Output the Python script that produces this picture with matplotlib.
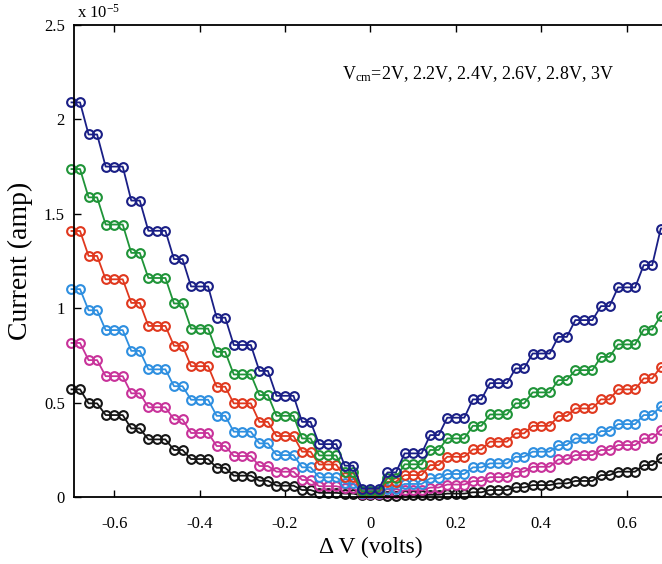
import numpy as np
import matplotlib
matplotlib.use("Agg")
import matplotlib.pyplot as plt

plt.rcParams['font.family'] = ['Liberation Serif', 'DejaVu Serif']
plt.rcParams['mathtext.fontset'] = 'custom'
plt.rcParams['mathtext.rm'] = 'Liberation Serif'
plt.rcParams['mathtext.it'] = 'Liberation Serif:italic'

# differential input sweep (volts)
dv = [-0.70, -0.68, -0.66, -0.64, -0.62, -0.60, -0.58, -0.56, -0.54, -0.52,
      -0.50, -0.48, -0.46, -0.44, -0.42, -0.40, -0.38, -0.36, -0.34, -0.32,
      -0.30, -0.28, -0.26, -0.24, -0.22, -0.20, -0.18, -0.16, -0.14, -0.12,
      -0.10, -0.08, -0.06, -0.04, -0.02, 0.00, 0.02, 0.04, 0.06, 0.08,
      0.10, 0.12, 0.14, 0.16, 0.18, 0.20, 0.22, 0.24, 0.26, 0.28,
      0.30, 0.32, 0.34, 0.36, 0.38, 0.40, 0.42, 0.44, 0.46, 0.48,
      0.50, 0.52, 0.54, 0.56, 0.58, 0.60, 0.62, 0.64, 0.66, 0.68, 0.70]

# number of sweep points sitting on each quantised current step
step_counts = [2, 2, 3, 2, 3, 2, 3, 2, 3, 2, 3, 2, 3, 2,
               3,
               2, 3, 2, 3, 2, 3, 2, 3, 2, 3, 2, 3, 2, 2]

# current on each step, x 1e-5 A
i_3v0 = [2.09, 1.92, 1.75, 1.57, 1.41, 1.26, 1.115, 0.95, 0.805, 0.668, 0.536, 0.398, 0.28, 0.166,
         0.045,
         0.13, 0.231, 0.328, 0.42, 0.517, 0.603, 0.681, 0.76, 0.848, 0.937, 1.011, 1.11, 1.228, 1.422]
i_2v8 = [1.737, 1.587, 1.443, 1.293, 1.16, 1.025, 0.892, 0.769, 0.649, 0.54, 0.43, 0.31, 0.22, 0.13,
         0.03,
         0.10, 0.173, 0.249, 0.31, 0.377, 0.437, 0.496, 0.554, 0.619, 0.672, 0.742, 0.808, 0.887, 0.958]
i_2v6 = [1.409, 1.277, 1.153, 1.028, 0.906, 0.801, 0.693, 0.584, 0.496, 0.398, 0.323, 0.24, 0.172, 0.105,
         0.025,
         0.081, 0.116, 0.169, 0.213, 0.252, 0.293, 0.337, 0.377, 0.429, 0.469, 0.517, 0.57, 0.628, 0.689]
i_2v4 = [1.101, 0.989, 0.884, 0.774, 0.676, 0.587, 0.515, 0.43, 0.346, 0.284, 0.222, 0.157, 0.104, 0.072,
         0.02,
         0.045, 0.069, 0.099, 0.122, 0.157, 0.178, 0.213, 0.24, 0.275, 0.31, 0.349, 0.386, 0.434, 0.481]
i_2v2 = [0.816, 0.725, 0.64, 0.549, 0.475, 0.411, 0.339, 0.27, 0.217, 0.164, 0.134, 0.09, 0.057, 0.047,
         0.015,
         0.02, 0.035, 0.05, 0.066, 0.084, 0.105, 0.134, 0.16, 0.199, 0.222, 0.249, 0.275, 0.31, 0.354]
i_2v0 = [0.57, 0.496, 0.434, 0.363, 0.305, 0.249, 0.201, 0.155, 0.113, 0.086, 0.06, 0.037, 0.022, 0.018,
         0.008,
         0.005, 0.008, 0.012, 0.018, 0.025, 0.037, 0.051, 0.063, 0.072, 0.085, 0.116, 0.134, 0.169, 0.205]

series = [(i_2v0, '#151515'), (i_2v2, '#c8329a'), (i_2v4, '#2e8fe0'),
          (i_2v6, '#e0381e'), (i_2v8, '#1f9438'), (i_3v0, '#1a1f86')]

fig = plt.figure(figsize=(6.62, 5.64), dpi=100)
ax = fig.add_axes([0.1125, 0.1188, 0.894, 0.8369])

for levels, col in series:
    cur = np.repeat(levels, step_counts)
    ax.plot(dv, cur, color=col, lw=1.3, marker='o', ms=6.3, mew=1.5,
            mfc='none', mec=col, clip_on=False)

ax.set_xlim(-0.693, 0.693)
ax.set_ylim(0, 2.5)
ax.set_xticks([-0.6, -0.4, -0.2, 0, 0.2, 0.4, 0.6])
ax.set_xticklabels(['-0.6', '-0.4', '-0.2', '0', '0.2', '0.4', '0.6'])
ax.set_yticks([0, 0.5, 1, 1.5, 2, 2.5])
ax.set_yticklabels(['0', '0.5', '1', '1.5', '2', '2.5'])
ax.tick_params(direction='in', length=5, width=1, labelsize=12, top=True, right=False)
ax.tick_params(axis='x', pad=14)
ax.tick_params(axis='y', pad=7)
for s in ax.spines.values():
    s.set_linewidth(1.3)

ax.set_xlabel('Δ V (volts)', fontsize=17, labelpad=3)
ax.set_ylabel('Current (amp)', fontsize=20, labelpad=8)
ax.text(0.005, 1.008, r'x 10$^{-5}$', transform=ax.transAxes, fontsize=12,
        ha='left', va='bottom')
ax.text(-0.066, 2.24, r'V$_{\rm cm}$=2V, 2.2V, 2.4V, 2.6V, 2.8V, 3V', fontsize=13,
        ha='left', va='center')

fig.savefig('out.png', dpi=100)
